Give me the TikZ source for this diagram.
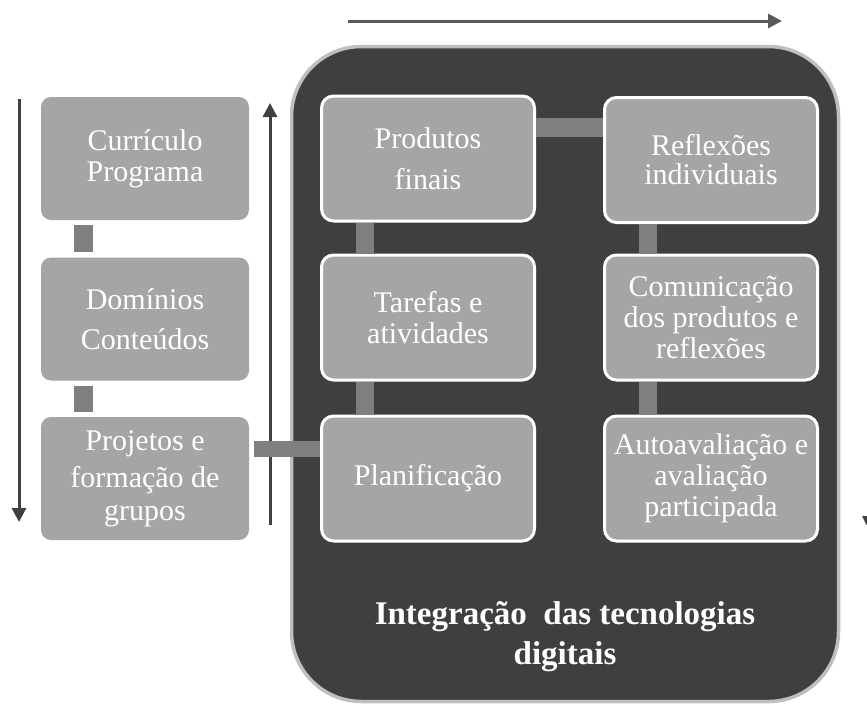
\documentclass[tikz,border=0pt]{standalone}
\usepackage{fontspec}
\setmainfont{Liberation Serif}
\usetikzlibrary{arrows.meta}
\definecolor{boxgray}{HTML}{A5A5A5}
\definecolor{bargray}{HTML}{7F7F7F}
\definecolor{framefill}{HTML}{3F3F3F}
\definecolor{frameline}{HTML}{BFBFBF}
\definecolor{topgray}{HTML}{595959}
\definecolor{sidegray}{HTML}{404040}
\begin{document}
\begin{tikzpicture}[x=1pt,y=-1pt,
  stagebox/.style={fill=boxgray,rounded corners=10pt,minimum width=208pt,minimum height=123pt,
    text=white,align=center,inner sep=1pt,font=\fontsize{30}{31}\selectfont},
  innerbox/.style={stagebox,draw=white,line width=3pt,rounded corners=12pt,
    minimum width=213pt,minimum height=125pt},
  bar/.style={draw=bargray,line width=18pt},
  flow/.style={line width=3pt,-{Triangle[length=14pt,width=14pt]}}]
\useasboundingbox (0,0) rectangle (867,704);
\node (frame) at (565,374) [draw=frameline,fill=framefill,line width=3.5pt,rounded corners=70pt,
  minimum width=547pt,minimum height=655pt] {};
\node (title) at (565,637) [text=white,align=center,font=\bfseries\fontsize{33}{40}\selectfont]
  {Integração \ das tecnologias\\digitais};

\node (cur) at (145,158.5) [stagebox] {Currículo\\Programa};
\node (dom) at (145,319) [stagebox] {Domínios\\[9pt]Conteúdos};
\node (proj) at (145,478.5) [stagebox] {Projetos e\\[6pt]formação de\\[2pt]grupos};

\node (prod) at (428,158.5) [innerbox] {Produtos\\[10pt]finais};
\node (tar) at (428,317.5) [innerbox] {Tarefas e\\atividades};
\node (plan) at (428,478.5) [innerbox] {Planificação};
\node (refl) at (711,160) [innerbox] {Reflexões\\[-2pt]individuais};
\node (com) at (711,317.5) [innerbox] {Comunicação\\dos produtos e\\reflexões};
\node (auto) at (711,478.5) [innerbox] {Autoavaliação e\\avaliação\\participada};

\draw[bar,line width=19pt,shorten <=5pt,shorten >=5pt] ([xshift=-62pt]cur.south) -- ([xshift=-62pt]dom.north);
\draw[bar,line width=19pt,shorten <=5pt,shorten >=5pt] ([xshift=-62pt]dom.south) -- ([xshift=-62pt]proj.north);
\draw[bar] ([xshift=-63pt]prod.south) -- ([xshift=-63pt]tar.north);
\draw[bar] ([xshift=-63pt]tar.south) -- ([xshift=-63pt]plan.north);
\draw[bar] ([xshift=-63pt]refl.south) -- ([xshift=-63pt]com.north);
\draw[bar] ([xshift=-63pt]com.south) -- ([xshift=-63pt]auto.north);
\draw[bar,line width=19pt] ([yshift=31pt]prod.east) -- ([yshift=31pt]refl.west |- prod.east);

\coordinate (topstart) at (348,21);
\coordinate (topend) at (782,21);
\coordinate (downstart) at (19,99);
\coordinate (downend) at (19,522);
\coordinate (upstart) at (270,525);
\coordinate (upend) at (270,103);
\draw[flow,topgray] (topstart) -- (topend);
\draw[flow,sidegray] (downstart) -- (downend);
\draw[flow,sidegray] (upstart) -- (upend);
\draw[bar,line width=16pt,shorten <=5pt] ([yshift=30pt]proj.east) -- ([yshift=30pt]plan.west);

\fill[sidegray] (862,516) -- (871,516) -- (866.5,525) -- cycle;
\end{tikzpicture}
\end{document}
